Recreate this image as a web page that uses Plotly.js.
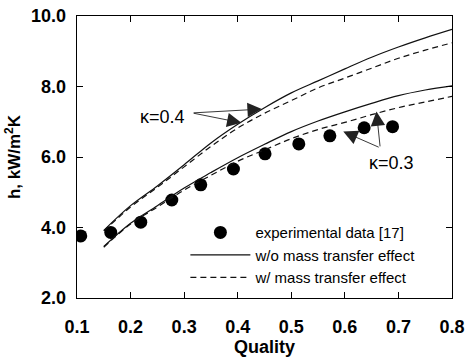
<!DOCTYPE html>
<html>
<head>
<meta charset="utf-8">
<script src="https://cdn.plot.ly/plotly-3.0.1.min.js"></script>
<style>html,body{margin:0;padding:0;background:#fff;}#chart{width:469px;height:362px;}</style>
</head>
<body>
<div id="chart"></div>
<script>
// Experimental data [17]
const expQuality = [0.107, 0.163, 0.219, 0.277, 0.331, 0.392, 0.451, 0.514, 0.572, 0.636, 0.689];
const expH       = [3.76, 3.86, 4.15, 4.78, 5.21, 5.66, 6.09, 6.37, 6.60, 6.83, 6.86];

// Model curves
const modelQuality = [0.15, 0.2, 0.25, 0.3, 0.35, 0.4, 0.45, 0.5, 0.55, 0.6, 0.65, 0.7, 0.75, 0.8];
const k04NoMass  = [3.92, 4.62, 5.18, 5.78, 6.40, 6.93, 7.40, 7.82, 8.16, 8.50, 8.83, 9.12, 9.38, 9.62];
const k04Mass    = [3.90, 4.58, 5.14, 5.72, 6.30, 6.82, 7.24, 7.60, 7.96, 8.24, 8.52, 8.80, 9.03, 9.24];
const k03NoMass  = [3.46, 4.12, 4.62, 5.12, 5.56, 5.98, 6.36, 6.72, 7.02, 7.28, 7.52, 7.74, 7.90, 8.02];
const k03Mass    = [3.44, 4.10, 4.58, 5.06, 5.48, 5.88, 6.20, 6.52, 6.78, 6.98, 7.20, 7.40, 7.56, 7.72];

const xTicks = [0.1, 0.2, 0.3, 0.4, 0.5, 0.6, 0.7, 0.8];
const yTicks = [2, 4, 6, 8, 10];

const FONT = 'Liberation Sans, Arial, Helvetica, sans-serif';
const solidLine = {color: '#111', width: 1.2, shape: 'spline'};
const dashLine = {color: '#111', width: 1.2, dash: '6px,4px', shape: 'spline'};

const traces = [
  {x: expQuality, y: expH, mode: 'markers', name: 'experimental data [17]',
   marker: {color: '#000', size: 13}},
  {x: modelQuality, y: k04NoMass, mode: 'lines', name: 'w/o mass transfer effect',
   legendgroup: 'no', line: solidLine},
  {x: modelQuality, y: k03NoMass, mode: 'lines', name: 'w/o mass transfer effect',
   legendgroup: 'no', showlegend: false, line: solidLine},
  {x: modelQuality, y: k04Mass, mode: 'lines', name: 'w/ mass transfer effect',
   legendgroup: 'w', line: dashLine},
  {x: modelQuality, y: k03Mass, mode: 'lines', name: 'w/ mass transfer effect',
   legendgroup: 'w', showlegend: false, line: dashLine}
];

function arrow(x, y, ax, ay) {
  return {x: x, y: y, ax: ax, ay: ay, xref: 'x', yref: 'y', axref: 'x', ayref: 'y',
    text: '', showarrow: true, arrowhead: 2, arrowsize: 3.2, arrowwidth: 0.9, arrowcolor: '#222'};
}

const layout = {
  width: 469, height: 362,
  margin: {l: 77, r: 17, t: 16, b: 64},
  paper_bgcolor: '#fff', plot_bgcolor: '#fff',
  font: {family: FONT, color: '#000'},
  showlegend: true,
  legend: {x: 0.289, y: 0.29, xanchor: 'left', yanchor: 'top', bgcolor: 'rgba(0,0,0,0)',
    font: {family: FONT, size: 15, color: '#000'}, itemwidth: 60, tracegroupgap: 0},
  xaxis: {range: [0.1, 0.8], tickvals: xTicks, tickformat: '.1f',
    ticks: 'inside', ticklen: 6, tickcolor: '#000', mirror: 'ticks',
    showline: true, linecolor: '#000', linewidth: 1.3, showgrid: false, zeroline: false,
    tickfont: {family: FONT, size: 18, weight: 'bold'}, ticklabelstandoff: 12,
    title: {text: '<b>Quality</b>', font: {family: FONT, size: 18}, standoff: 4}},
  yaxis: {range: [2, 10], tickvals: yTicks, tickformat: '.1f',
    ticks: 'inside', ticklen: 6, tickcolor: '#000', mirror: 'ticks',
    showline: true, linecolor: '#000', linewidth: 1.3, showgrid: false, zeroline: false,
    tickfont: {family: FONT, size: 18, weight: 'bold'}, ticklabelstandoff: 6,
    title: {text: '<b>h, kW/m<sup>2</sup>K</b>', font: {family: FONT, size: 17}, standoff: 6}},
  annotations: [
    {x: 0.2605, y: 7.13, xref: 'x', yref: 'y', text: 'κ=0.4', showarrow: false,
     font: {family: FONT, size: 18}},
    {x: 0.687, y: 5.83, xref: 'x', yref: 'y', text: 'κ=0.3', showarrow: false,
     font: {family: FONT, size: 18}},
    arrow(0.445, 7.36, 0.315, 7.25),
    arrow(0.407, 6.97, 0.315, 7.25),
    arrow(0.597, 6.72, 0.666, 6.26),
    arrow(0.659, 7.29, 0.666, 6.26)
  ]
};

Plotly.newPlot('chart', traces, layout, {staticPlot: true, displayModeBar: false});
</script>
</body>
</html>
